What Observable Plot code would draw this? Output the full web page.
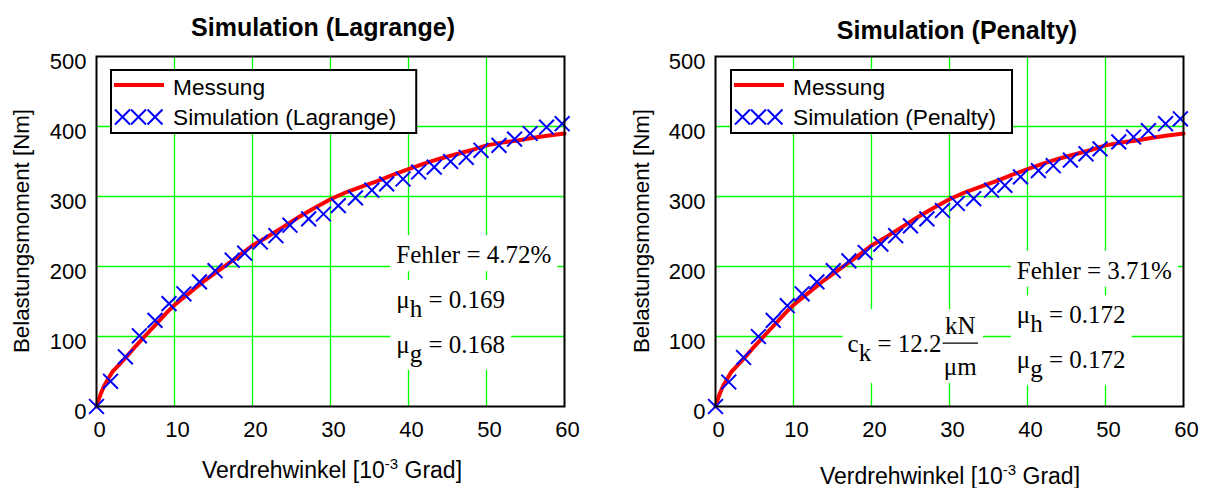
<!DOCTYPE html>
<html><head><meta charset="utf-8">
<script src="https://cdn.jsdelivr.net/npm/d3@7"></script>
<script src="https://cdn.jsdelivr.net/npm/@observablehq/plot@0.6"></script>
<style>
body{margin:0;background:#fff;}
#row{display:flex;width:1210px;height:488px;overflow:hidden;}
#row svg{display:block;flex:none;}
</style></head><body><div id="row"></div>
<script>
// ---- data ----
const xTicks = [0, 10, 20, 30, 40, 50, 60];
const yTicks = [0, 100, 200, 300, 400, 500];
const measX = [0,0.5,1,2,3,4,5,6,7,8,9,10,12,14,16,18,20,22,24,26,28,30,32,34,36,38,40,42,44,46,48,50,52,54,56,58,60];
const measY = [0,17,30,49,61,73,86,98,110,122,134,145,163,181,197,213,230,243,257,271,284,296,306,314,322,331,339,347,354,360,366,373,377,380,384,387,390];
const lagX = [0,1.8,3.7,5.5,7.5,9.3,11.2,13.2,15.2,17.4,19.0,21.0,23.0,24.8,27.2,29.1,31.0,33.2,35.3,37.2,39.3,41.3,43.3,45.4,47.4,49.3,51.6,53.6,55.6,57.7,59.7];
const lagY = [0,36,71,101,123,147,161,178,194,209,219,235,244,259,268,275,287,298,309,318,325,335,342,350,356,366,373,382,390,399,404];
const penX = [0,1.7,3.6,5.5,7.4,9.2,11.1,13.0,15.1,17.1,19.2,21.2,23.1,25.0,27.1,29.1,31.0,33.1,35.4,37.1,39.1,41.4,43.3,45.5,47.5,49.3,51.7,53.6,55.5,57.7,59.6];
const penY = [0,35,70,100,123,144,161,178,194,208,220,232,244,258,268,280,290,297,309,316,328,337,344,352,361,368,378,385,394,404,411];
const titles = ["Simulation (Lagrange)", "Simulation (Penalty)"];
const legendMeas = "Messung";
const legendSim = ["Simulation (Lagrange)", "Simulation (Penalty)"];
const xLabelParts = ["Verdrehwinkel [10", "-3", " Grad]"];
const yLabel = "Belastungsmoment [Nm]";
const fehler = ["4.72%", "3.71%"];
const muH = ["0.169", "0.172"];
const muG = ["0.168", "0.172"];
const ckValue = "12.2";
const ckUnit = ["kN", "\u03bcm"];

const SANS = "'Liberation Sans', Arial, Helvetica, sans-serif";
const SERIF = "'Liberation Serif', 'Times New Roman', Times, serif";

function makeChart(simX, simY, mL, mR) {
  const meas = measX.map((x, i) => ({x, y: measY[i]}));
  const sim = simX.map((x, i) => ({x, y: simY[i]}));
  return Plot.plot({
    width: 605, height: 488,
    marginLeft: mL, marginRight: mR, marginTop: 56, marginBottom: 82,
    style: {fontFamily: SANS, fontSize: "22px", color: "#000", background: "#fff", overflow: "visible"},
    x: {domain: [0, 60]},
    y: {domain: [0, 500]},
    marks: [
      Plot.gridX({ticks: xTicks.slice(1, -1), stroke: "#00ff00", strokeOpacity: 1, strokeWidth: 1.3}),
      Plot.gridY({ticks: yTicks.slice(1, -1), stroke: "#00ff00", strokeOpacity: 1, strokeWidth: 1.3}),
      Plot.axisX({ticks: xTicks, tickSize: 0, tickPadding: 15, label: null, dx: 3}),
      Plot.axisY({ticks: yTicks, tickSize: 0, tickPadding: 10, label: null, dy: 5}),
      Plot.line(meas, {x: "x", y: "y", stroke: "#ff0000", strokeWidth: 4}),
      Plot.dot(sim, {x: "x", y: "y", symbol: "times", r: 6.8, stroke: "#0000ff", strokeWidth: 2}),
      Plot.frame({stroke: "#000", strokeWidth: 2})
    ]
  });
}

function txt(g, x, y, font) {
  return g.append("text").attr("x", x).attr("y", y).attr("fill", "#000")
    .attr("text-anchor", "start").style("font", font);
}

function boxBehind(svg, t, padX, padT, padB) {
  const b = t.node().getBBox();
  svg.insert("rect", () => t.node())
    .attr("x", b.x - padX).attr("y", b.y - padT)
    .attr("width", b.width + 2 * padX).attr("height", b.height + padT + padB)
    .attr("fill", "#fff");
}

function annot(svg, x, y, parts) {
  const t = txt(svg, x, y, "25px " + SERIF);
  for (const [s, d] of parts) t.append("tspan").attr("dy", d).text(s);
  boxBehind(svg, t, 6, 6, 3);
  return t;
}

function decorate(plot, i, cfg) {
  const svg = d3.select(plot);
  const sx = plot.scale("x"), sy = plot.scale("y");
  const X = v => sx.apply(v), Y = v => sy.apply(v);
  const fl = X(0), ft = Y(500), fb = Y(0);

  // title
  txt(svg, cfg.titleX, cfg.titleY, "bold 25px " + SANS).attr("text-anchor", "middle").text(titles[i]);
  // x label with superscript
  const xl = txt(svg, cfg.xlabX, cfg.xlabY, "23px " + SANS).attr("text-anchor", "middle");
  xl.append("tspan").text(xLabelParts[0]);
  xl.append("tspan").attr("dy", -9).style("font-size", "15px").text(xLabelParts[1]);
  xl.append("tspan").attr("dy", 9).text(xLabelParts[2]);
  // y label
  txt(svg, 0, 0, "22.3px " + SANS).attr("text-anchor", "middle")
    .attr("transform", `translate(${cfg.ylabX},${(ft + fb) / 2}) rotate(-90)`).text(yLabel);

  // legend
  const lx = fl + cfg.legDx, ly = ft + 14;
  const lg = svg.append("g");
  const rect = lg.append("rect").attr("x", lx).attr("y", ly).attr("height", 63)
    .attr("fill", "#fff").attr("stroke", "#000").attr("stroke-width", 2);
  lg.append("line").attr("x1", lx + 3).attr("x2", lx + 53).attr("y1", ly + 15).attr("y2", ly + 15)
    .attr("stroke", "#ff0000").attr("stroke-width", 4);
  for (const cx of [11.5, 27.5, 44]) {
    lg.append("path").attr("d", `M${lx + cx - 7.5},${ly + 47 - 7.5}L${lx + cx + 7.5},${ly + 47 + 7.5}M${lx + cx - 7.5},${ly + 47 + 7.5}L${lx + cx + 7.5},${ly + 47 - 7.5}`)
      .attr("stroke", "#0000ff").attr("stroke-width", 2).attr("fill", "none");
  }
  txt(lg, lx + 62, ly + 25, "22.7px " + SANS).text(legendMeas);
  const st = txt(lg, lx + 62, ly + 55, "22.7px " + SANS).text(legendSim[i]);
  const sb = st.node().getBBox();
  rect.attr("width", sb.x + sb.width + cfg.legPad - lx);

  // annotations
  const ax = X(cfg.annX);
  annot(svg, ax, Y(cfg.fehY), [["Fehler = " + fehler[i], 0]]);
  annot(svg, ax, Y(cfg.fehY - 64), [["\u03bc", 0], ["h", 9], [" = " + muH[i], -9]]);
  annot(svg, ax, Y(cfg.fehY - 128), [["\u03bc", 0], ["g", 9], [" = " + muG[i], -9]]);

  if (cfg.ck) {
    const cx = X(cfg.ck[0]), cy = Y(cfg.ck[1]);
    const g = svg.append("g");
    const t = txt(g, cx, cy, "25px " + SERIF);
    t.append("tspan").text("c");
    t.append("tspan").attr("dy", 9).text("k");
    t.append("tspan").attr("dy", -9).text(" = " + ckValue);
    const tb = t.node().getBBox();
    const fx = tb.x + tb.width + 1;
    const num = txt(g, 0, cy - 18, "25px " + SERIF).attr("text-anchor", "middle").text(ckUnit[0]);
    const den = txt(g, 0, cy + 23, "25px " + SERIF).attr("text-anchor", "middle").text(ckUnit[1]);
    const w = Math.max(num.node().getBBox().width, den.node().getBBox().width) + 2;
    num.attr("x", fx + w / 2); den.attr("x", fx + w / 2);
    g.append("line").attr("x1", fx).attr("x2", fx + w).attr("y1", cy - 9).attr("y2", cy - 9)
      .attr("stroke", "#000").attr("stroke-width", 1.2);
    const gb = g.node().getBBox();
    svg.insert("rect", () => g.node()).attr("x", gb.x - 5).attr("y", gb.y - 3)
      .attr("width", gb.width + 10).attr("height", gb.height + 6).attr("fill", "#fff");
  }
}

const row = document.getElementById("row");
const left = makeChart(lagX, lagY, 96, 41);
const right = makeChart(penX, penY, 110, 27);
row.appendChild(left);
row.appendChild(right);
decorate(left, 0, {titleX: 323, titleY: 36, xlabX: 332, xlabY: 478, ylabX: 28.5, legDx: 15, legPad: 20, annX: 38.5, fehY: 204});
decorate(right, 1, {titleX: 352, titleY: 39, xlabX: 345, xlabY: 484, ylabX: 44, legDx: 16, legPad: 16, annX: 38.7, fehY: 182, ck: [17.0, 77]});
</script>
</body></html>
